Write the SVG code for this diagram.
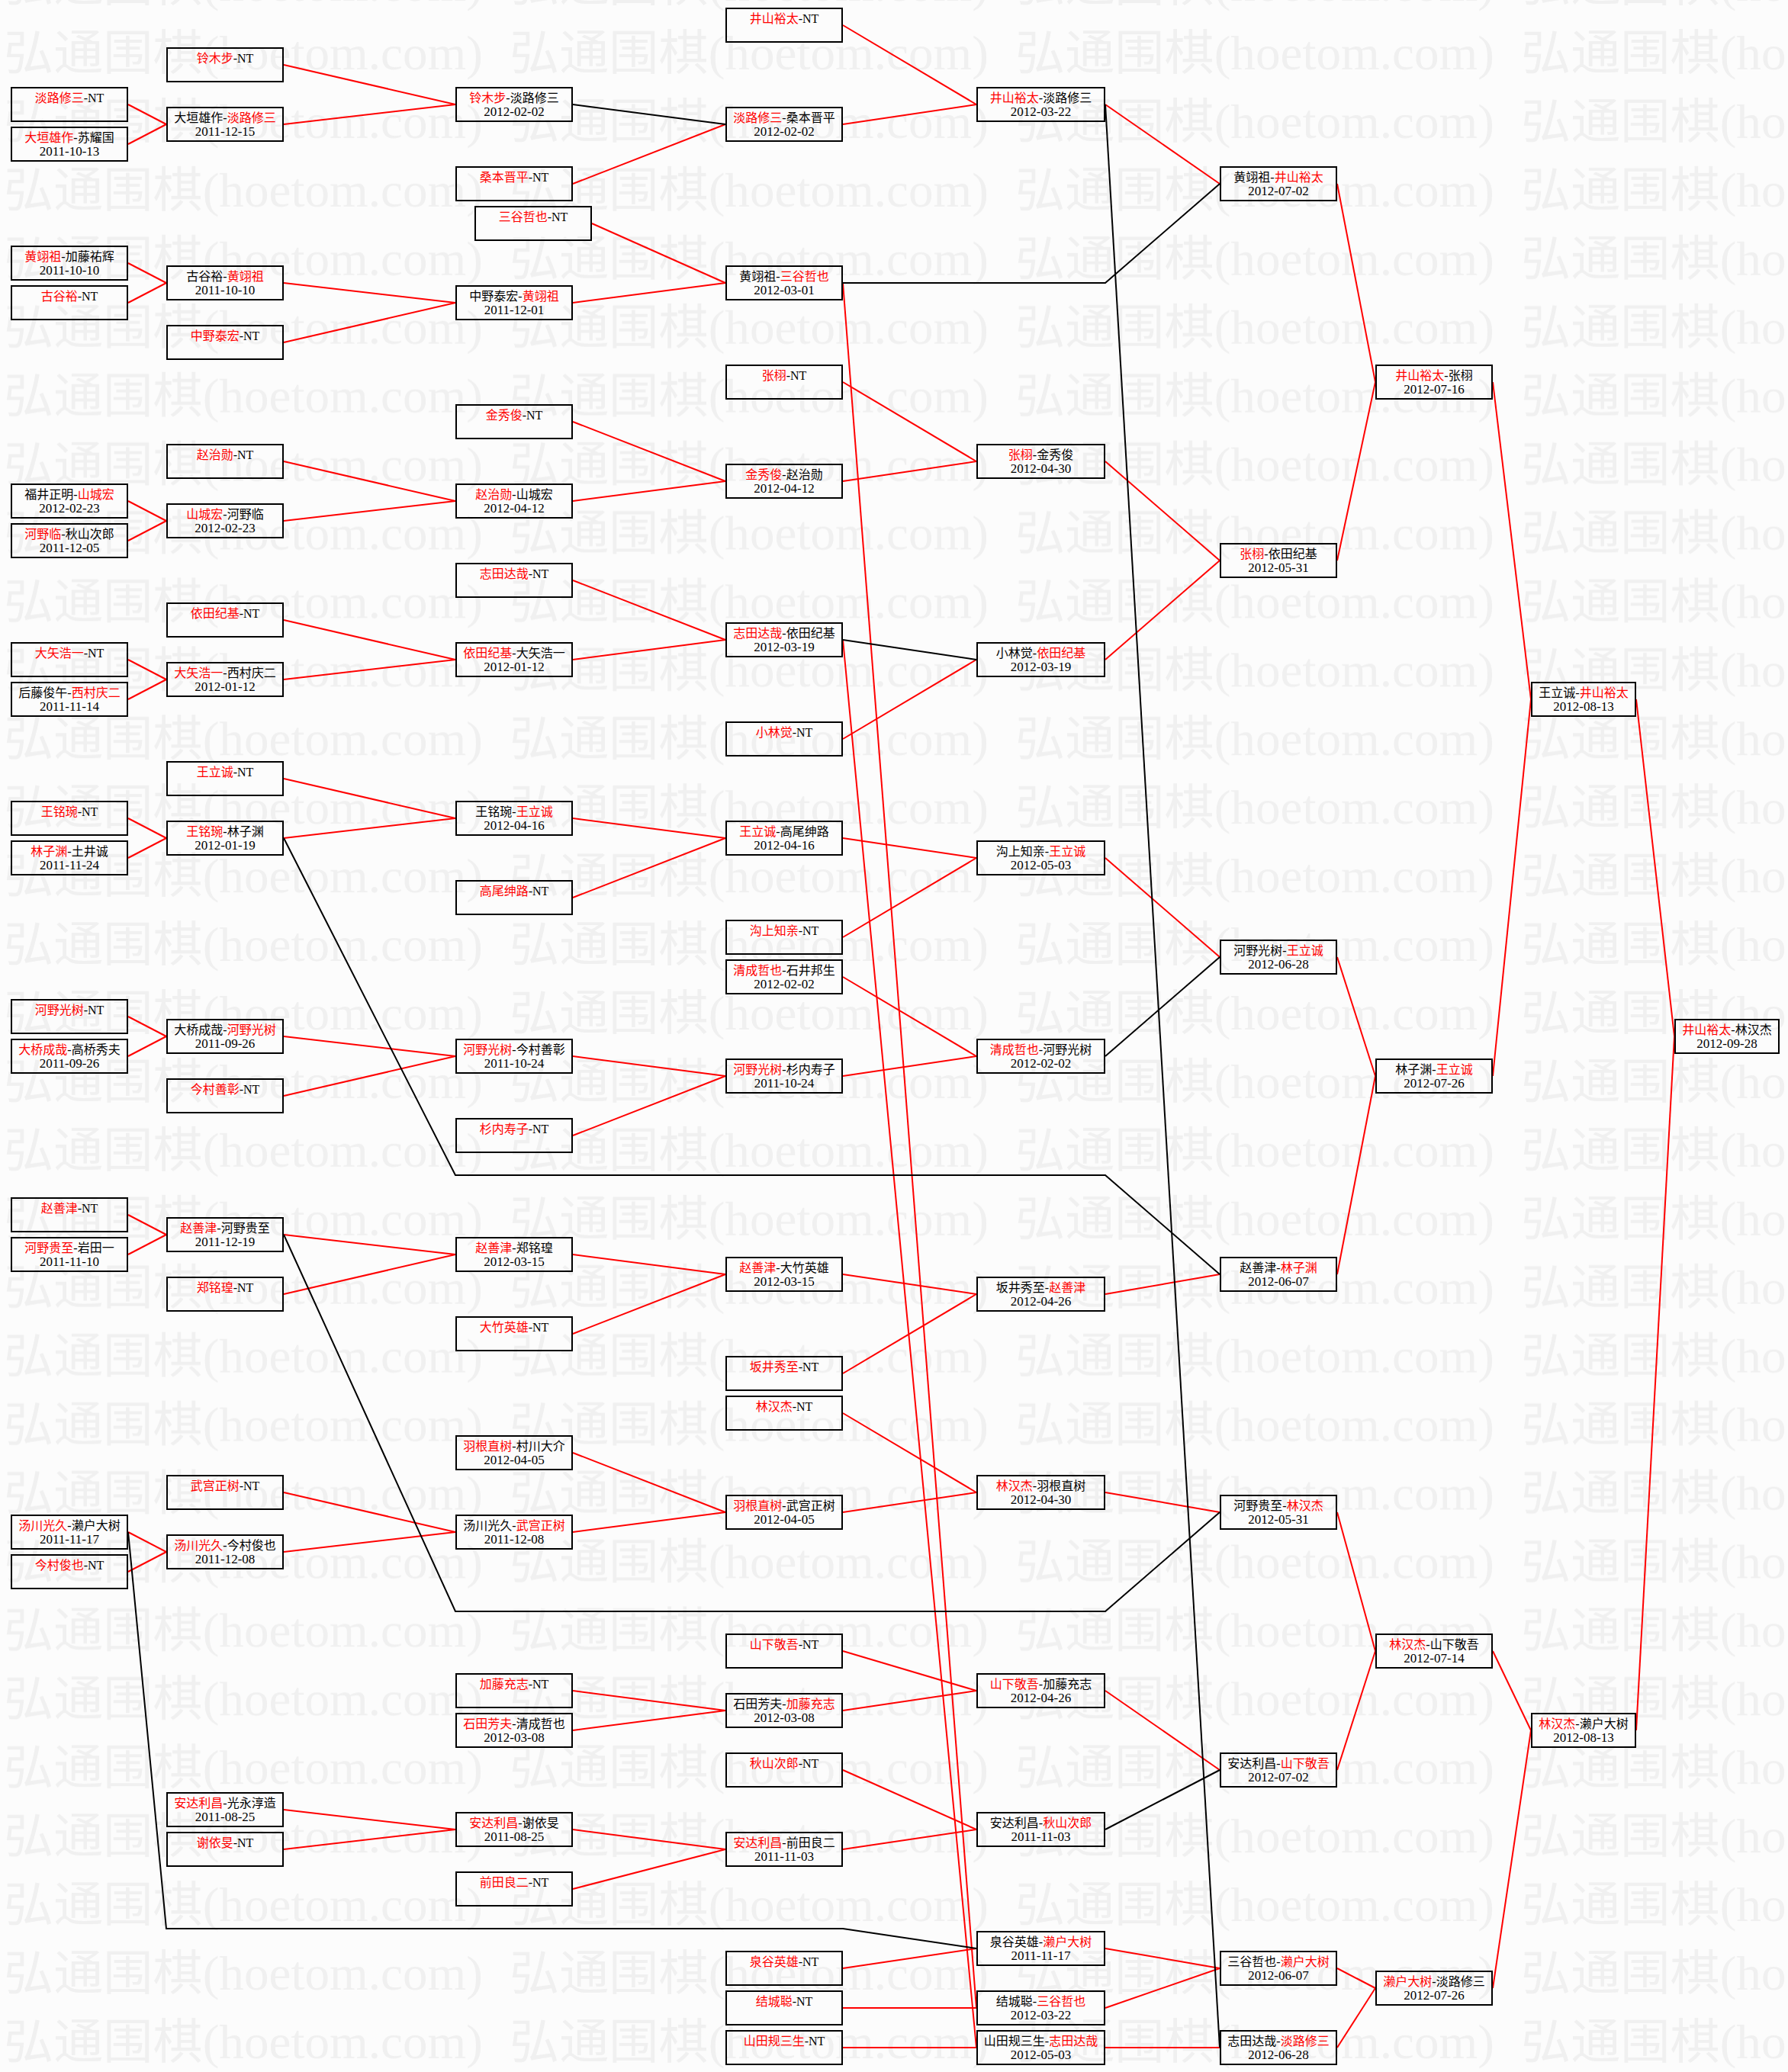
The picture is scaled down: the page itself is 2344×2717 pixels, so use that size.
<svg xmlns="http://www.w3.org/2000/svg" width="2344" height="2717" viewBox="0 0 2344 2717">
<style>
.bg{fill:#fcfcfc}
.wm{font-family:"Liberation Serif","Noto Sans CJK SC",serif;font-size:63px;fill:#f0f0f0}
.n rect{fill:none;stroke:#000;stroke-width:2}
.n text{font-family:"Liberation Serif","Noto Sans CJK SC",serif;font-size:16px;text-anchor:middle;fill:#000}
.n text.d{font-size:17px}
.r{fill:#f00}
.cr{stroke:#f00;stroke-width:2;fill:none}
.ck{stroke:#000;stroke-width:2;fill:none}
</style>
<defs>
<pattern id="wmp" patternUnits="userSpaceOnUse" x="5" y="23" width="663" height="89.93">
<text class="wm" x="0" y="68" textLength="628" lengthAdjust="spacingAndGlyphs">弘通围棋(hoetom.com)</text>
</pattern>
</defs>
<rect class="bg" x="0" y="0" width="2344" height="2717"/>
<rect id="watermark" x="0" y="0" width="2344" height="2717" fill="url(#wmp)"/>

<g id="connectors">
<g class="cr">
<line x1="168" y1="137" x2="218" y2="163"/><line x1="168" y1="189" x2="218" y2="163"/>
<line x1="168" y1="345" x2="218" y2="371"/><line x1="168" y1="397" x2="218" y2="371"/>
<line x1="168" y1="657" x2="218" y2="683"/><line x1="168" y1="709" x2="218" y2="683"/>
<line x1="168" y1="865" x2="218" y2="891"/><line x1="168" y1="917" x2="218" y2="891"/>
<line x1="168" y1="1073" x2="218" y2="1099"/><line x1="168" y1="1125" x2="218" y2="1099"/>
<line x1="168" y1="1333" x2="218" y2="1359"/><line x1="168" y1="1385" x2="218" y2="1359"/>
<line x1="168" y1="1593" x2="218" y2="1619"/><line x1="168" y1="1645" x2="218" y2="1619"/>
<line x1="168" y1="2009" x2="218" y2="2035"/><line x1="168" y1="2061" x2="218" y2="2035"/>

<line x1="372" y1="85" x2="597" y2="137"/><line x1="372" y1="163" x2="597" y2="137"/>
<line x1="372" y1="371" x2="597" y2="397"/><line x1="372" y1="449" x2="597" y2="397"/>
<line x1="372" y1="605" x2="597" y2="657"/><line x1="372" y1="683" x2="597" y2="657"/>
<line x1="372" y1="813" x2="597" y2="865"/><line x1="372" y1="891" x2="597" y2="865"/>
<line x1="372" y1="1021" x2="597" y2="1073"/><line x1="372" y1="1099" x2="597" y2="1073"/>
<line x1="372" y1="1359" x2="597" y2="1385"/><line x1="372" y1="1437" x2="597" y2="1385"/>
<line x1="372" y1="1619" x2="597" y2="1645"/><line x1="372" y1="1697" x2="597" y2="1645"/>
<line x1="372" y1="1957" x2="597" y2="2009"/><line x1="372" y1="2035" x2="597" y2="2009"/>
<line x1="372" y1="2373" x2="597" y2="2399"/><line x1="372" y1="2425" x2="597" y2="2399"/>

<line x1="751" y1="241" x2="951" y2="163"/>
<line x1="776" y1="293" x2="951" y2="371"/><line x1="751" y1="397" x2="951" y2="371"/>
<line x1="751" y1="553" x2="951" y2="631"/><line x1="751" y1="657" x2="951" y2="631"/>
<line x1="751" y1="761" x2="951" y2="839"/><line x1="751" y1="865" x2="951" y2="839"/>
<line x1="751" y1="1073" x2="951" y2="1099"/><line x1="751" y1="1177" x2="951" y2="1099"/>
<line x1="751" y1="1385" x2="951" y2="1411"/><line x1="751" y1="1489" x2="951" y2="1411"/>
<line x1="751" y1="1645" x2="951" y2="1671"/><line x1="751" y1="1749" x2="951" y2="1671"/>
<line x1="751" y1="1905" x2="951" y2="1983"/><line x1="751" y1="2009" x2="951" y2="1983"/>
<line x1="751" y1="2217" x2="951" y2="2243"/><line x1="751" y1="2269" x2="951" y2="2243"/>
<line x1="751" y1="2399" x2="951" y2="2425"/><line x1="751" y1="2477" x2="951" y2="2425"/>

<line x1="1105" y1="33" x2="1280" y2="137"/><line x1="1105" y1="163" x2="1280" y2="137"/>
<line x1="1105" y1="371" x2="1280" y2="2633"/>
<line x1="1105" y1="501" x2="1280" y2="605"/><line x1="1105" y1="631" x2="1280" y2="605"/>
<line x1="1105" y1="969" x2="1280" y2="865"/>
<line x1="1105" y1="839" x2="1280" y2="2685"/>
<line x1="1105" y1="1099" x2="1280" y2="1125"/><line x1="1105" y1="1229" x2="1280" y2="1125"/>
<line x1="1105" y1="1281" x2="1280" y2="1385"/><line x1="1105" y1="1411" x2="1280" y2="1385"/>
<line x1="1105" y1="1671" x2="1280" y2="1697"/><line x1="1105" y1="1801" x2="1280" y2="1697"/>
<line x1="1105" y1="1853" x2="1280" y2="1957"/><line x1="1105" y1="1983" x2="1280" y2="1957"/>
<line x1="1105" y1="2165" x2="1280" y2="2217"/><line x1="1105" y1="2243" x2="1280" y2="2217"/>
<line x1="1105" y1="2321" x2="1280" y2="2399"/><line x1="1105" y1="2425" x2="1280" y2="2399"/>
<line x1="1105" y1="2581" x2="1280" y2="2555"/>
<line x1="1105" y1="2633" x2="1280" y2="2633"/>
<line x1="1105" y1="2685" x2="1280" y2="2685"/>

<line x1="1449" y1="137" x2="1599" y2="241"/>
<line x1="1449" y1="605" x2="1599" y2="735"/><line x1="1449" y1="865" x2="1599" y2="735"/>
<line x1="1449" y1="1125" x2="1599" y2="1255"/>
<line x1="1449" y1="1697" x2="1599" y2="1671"/>
<line x1="1449" y1="1957" x2="1599" y2="1983"/>
<line x1="1449" y1="2217" x2="1599" y2="2321"/>
<line x1="1449" y1="2555" x2="1599" y2="2581"/><line x1="1449" y1="2633" x2="1599" y2="2581"/>
<line x1="1449" y1="2685" x2="1599" y2="2685"/>

<line x1="1753" y1="241" x2="1803" y2="501"/><line x1="1753" y1="735" x2="1803" y2="501"/>
<line x1="1753" y1="1255" x2="1803" y2="1411"/><line x1="1753" y1="1671" x2="1803" y2="1411"/>
<line x1="1753" y1="1983" x2="1803" y2="2165"/><line x1="1753" y1="2321" x2="1803" y2="2165"/>
<line x1="1753" y1="2581" x2="1803" y2="2607"/><line x1="1753" y1="2685" x2="1803" y2="2607"/>

<line x1="1957" y1="501" x2="2007" y2="917"/><line x1="1957" y1="1411" x2="2007" y2="917"/>
<line x1="1957" y1="2165" x2="2007" y2="2269"/><line x1="1957" y1="2607" x2="2007" y2="2269"/>

<line x1="2145" y1="917" x2="2195" y2="1359"/><line x1="2145" y1="2269" x2="2195" y2="1359"/>
</g>
<g class="ck">
<line x1="751" y1="137" x2="951" y2="163"/>
<polyline points="1105,371 1449,371 1599,241"/>
<line x1="1105" y1="839" x2="1280" y2="865"/>
<line x1="1449" y1="137" x2="1599" y2="2685"/>
<line x1="1449" y1="1385" x2="1599" y2="1255"/>
<line x1="1449" y1="2399" x2="1599" y2="2321"/>
<polyline points="372,1099 597,1541 1449,1541 1599,1671"/>
<polyline points="372,1619 597,2113 1449,2113 1599,1983"/>
<polyline points="168,2009 218,2529 1105,2529 1280,2555"/>
</g>
</g>

<g id="nodes">
<!-- column 0 -->
<g id="n0_4" class="n" transform="translate(14,114)"><rect x="1" y="1" width="152" height="44"/><text x="77" y="20"><tspan class="r">淡路修三</tspan>-NT</text></g>
<g id="n0_6" class="n" transform="translate(14,166)"><rect x="1" y="1" width="152" height="44"/><text x="77" y="20"><tspan class="r">大垣雄作</tspan>-苏耀国</text><text class="d" x="77" y="38">2011-10-13</text></g>
<g id="n0_12" class="n" transform="translate(14,322)"><rect x="1" y="1" width="152" height="44"/><text x="77" y="20"><tspan class="r">黄翊祖</tspan>-加藤祐辉</text><text class="d" x="77" y="38">2011-10-10</text></g>
<g id="n0_14" class="n" transform="translate(14,374)"><rect x="1" y="1" width="152" height="44"/><text x="77" y="20"><tspan class="r">古谷裕</tspan>-NT</text></g>
<g id="n0_24" class="n" transform="translate(14,634)"><rect x="1" y="1" width="152" height="44"/><text x="77" y="20">福井正明-<tspan class="r">山城宏</tspan></text><text class="d" x="77" y="38">2012-02-23</text></g>
<g id="n0_26" class="n" transform="translate(14,686)"><rect x="1" y="1" width="152" height="44"/><text x="77" y="20"><tspan class="r">河野临</tspan>-秋山次郎</text><text class="d" x="77" y="38">2011-12-05</text></g>
<g id="n0_32" class="n" transform="translate(14,842)"><rect x="1" y="1" width="152" height="44"/><text x="77" y="20"><tspan class="r">大矢浩一</tspan>-NT</text></g>
<g id="n0_34" class="n" transform="translate(14,894)"><rect x="1" y="1" width="152" height="44"/><text x="77" y="20">后藤俊午-<tspan class="r">西村庆二</tspan></text><text class="d" x="77" y="38">2011-11-14</text></g>
<g id="n0_40" class="n" transform="translate(14,1050)"><rect x="1" y="1" width="152" height="44"/><text x="77" y="20"><tspan class="r">王铭琬</tspan>-NT</text></g>
<g id="n0_42" class="n" transform="translate(14,1102)"><rect x="1" y="1" width="152" height="44"/><text x="77" y="20"><tspan class="r">林子渊</tspan>-土井诚</text><text class="d" x="77" y="38">2011-11-24</text></g>
<g id="n0_50" class="n" transform="translate(14,1310)"><rect x="1" y="1" width="152" height="44"/><text x="77" y="20"><tspan class="r">河野光树</tspan>-NT</text></g>
<g id="n0_52" class="n" transform="translate(14,1362)"><rect x="1" y="1" width="152" height="44"/><text x="77" y="20"><tspan class="r">大桥成哉</tspan>-高桥秀夫</text><text class="d" x="77" y="38">2011-09-26</text></g>
<g id="n0_60" class="n" transform="translate(14,1570)"><rect x="1" y="1" width="152" height="44"/><text x="77" y="20"><tspan class="r">赵善津</tspan>-NT</text></g>
<g id="n0_62" class="n" transform="translate(14,1622)"><rect x="1" y="1" width="152" height="44"/><text x="77" y="20"><tspan class="r">河野贵至</tspan>-岩田一</text><text class="d" x="77" y="38">2011-11-10</text></g>
<g id="n0_76" class="n" transform="translate(14,1986)"><rect x="1" y="1" width="152" height="44"/><text x="77" y="20"><tspan class="r">汤川光久</tspan>-濑户大树</text><text class="d" x="77" y="38">2011-11-17</text></g>
<g id="n0_78" class="n" transform="translate(14,2038)"><rect x="1" y="1" width="152" height="44"/><text x="77" y="20"><tspan class="r">今村俊也</tspan>-NT</text></g>

<!-- column 1 -->
<g id="n1_2" class="n" transform="translate(218,62)"><rect x="1" y="1" width="152" height="44"/><text x="77" y="20"><tspan class="r">铃木步</tspan>-NT</text></g>
<g id="n1_5" class="n" transform="translate(218,140)"><rect x="1" y="1" width="152" height="44"/><text x="77" y="20">大垣雄作-<tspan class="r">淡路修三</tspan></text><text class="d" x="77" y="38">2011-12-15</text></g>
<g id="n1_13" class="n" transform="translate(218,348)"><rect x="1" y="1" width="152" height="44"/><text x="77" y="20">古谷裕-<tspan class="r">黄翊祖</tspan></text><text class="d" x="77" y="38">2011-10-10</text></g>
<g id="n1_16" class="n" transform="translate(218,426)"><rect x="1" y="1" width="152" height="44"/><text x="77" y="20"><tspan class="r">中野泰宏</tspan>-NT</text></g>
<g id="n1_22" class="n" transform="translate(218,582)"><rect x="1" y="1" width="152" height="44"/><text x="77" y="20"><tspan class="r">赵治勋</tspan>-NT</text></g>
<g id="n1_25" class="n" transform="translate(218,660)"><rect x="1" y="1" width="152" height="44"/><text x="77" y="20"><tspan class="r">山城宏</tspan>-河野临</text><text class="d" x="77" y="38">2012-02-23</text></g>
<g id="n1_30" class="n" transform="translate(218,790)"><rect x="1" y="1" width="152" height="44"/><text x="77" y="20"><tspan class="r">依田纪基</tspan>-NT</text></g>
<g id="n1_33" class="n" transform="translate(218,868)"><rect x="1" y="1" width="152" height="44"/><text x="77" y="20"><tspan class="r">大矢浩一</tspan>-西村庆二</text><text class="d" x="77" y="38">2012-01-12</text></g>
<g id="n1_38" class="n" transform="translate(218,998)"><rect x="1" y="1" width="152" height="44"/><text x="77" y="20"><tspan class="r">王立诚</tspan>-NT</text></g>
<g id="n1_41" class="n" transform="translate(218,1076)"><rect x="1" y="1" width="152" height="44"/><text x="77" y="20"><tspan class="r">王铭琬</tspan>-林子渊</text><text class="d" x="77" y="38">2012-01-19</text></g>
<g id="n1_51" class="n" transform="translate(218,1336)"><rect x="1" y="1" width="152" height="44"/><text x="77" y="20">大桥成哉-<tspan class="r">河野光树</tspan></text><text class="d" x="77" y="38">2011-09-26</text></g>
<g id="n1_54" class="n" transform="translate(218,1414)"><rect x="1" y="1" width="152" height="44"/><text x="77" y="20"><tspan class="r">今村善彰</tspan>-NT</text></g>
<g id="n1_61" class="n" transform="translate(218,1596)"><rect x="1" y="1" width="152" height="44"/><text x="77" y="20"><tspan class="r">赵善津</tspan>-河野贵至</text><text class="d" x="77" y="38">2011-12-19</text></g>
<g id="n1_64" class="n" transform="translate(218,1674)"><rect x="1" y="1" width="152" height="44"/><text x="77" y="20"><tspan class="r">郑铭瑝</tspan>-NT</text></g>
<g id="n1_74" class="n" transform="translate(218,1934)"><rect x="1" y="1" width="152" height="44"/><text x="77" y="20"><tspan class="r">武宫正树</tspan>-NT</text></g>
<g id="n1_77" class="n" transform="translate(218,2012)"><rect x="1" y="1" width="152" height="44"/><text x="77" y="20"><tspan class="r">汤川光久</tspan>-今村俊也</text><text class="d" x="77" y="38">2011-12-08</text></g>
<g id="n1_90" class="n" transform="translate(218,2350)"><rect x="1" y="1" width="152" height="44"/><text x="77" y="20"><tspan class="r">安达利昌</tspan>-光永淳造</text><text class="d" x="77" y="38">2011-08-25</text></g>
<g id="n1_92" class="n" transform="translate(218,2402)"><rect x="1" y="1" width="152" height="44"/><text x="77" y="20"><tspan class="r">谢依旻</tspan>-NT</text></g>

<!-- column 2 -->
<g id="n2_4" class="n" transform="translate(597,114)"><rect x="1" y="1" width="152" height="44"/><text x="77" y="20"><tspan class="r">铃木步</tspan>-淡路修三</text><text class="d" x="77" y="38">2012-02-02</text></g>
<g id="n2_8" class="n" transform="translate(597,218)"><rect x="1" y="1" width="152" height="44"/><text x="77" y="20"><tspan class="r">桑本晋平</tspan>-NT</text></g>
<g id="n2_10" class="n" transform="translate(622,270)"><rect x="1" y="1" width="152" height="44"/><text x="77" y="20"><tspan class="r">三谷哲也</tspan>-NT</text></g>
<g id="n2_14" class="n" transform="translate(597,374)"><rect x="1" y="1" width="152" height="44"/><text x="77" y="20">中野泰宏-<tspan class="r">黄翊祖</tspan></text><text class="d" x="77" y="38">2011-12-01</text></g>
<g id="n2_20" class="n" transform="translate(597,530)"><rect x="1" y="1" width="152" height="44"/><text x="77" y="20"><tspan class="r">金秀俊</tspan>-NT</text></g>
<g id="n2_24" class="n" transform="translate(597,634)"><rect x="1" y="1" width="152" height="44"/><text x="77" y="20"><tspan class="r">赵治勋</tspan>-山城宏</text><text class="d" x="77" y="38">2012-04-12</text></g>
<g id="n2_28" class="n" transform="translate(597,738)"><rect x="1" y="1" width="152" height="44"/><text x="77" y="20"><tspan class="r">志田达哉</tspan>-NT</text></g>
<g id="n2_32" class="n" transform="translate(597,842)"><rect x="1" y="1" width="152" height="44"/><text x="77" y="20"><tspan class="r">依田纪基</tspan>-大矢浩一</text><text class="d" x="77" y="38">2012-01-12</text></g>
<g id="n2_40" class="n" transform="translate(597,1050)"><rect x="1" y="1" width="152" height="44"/><text x="77" y="20">王铭琬-<tspan class="r">王立诚</tspan></text><text class="d" x="77" y="38">2012-04-16</text></g>
<g id="n2_44" class="n" transform="translate(597,1154)"><rect x="1" y="1" width="152" height="44"/><text x="77" y="20"><tspan class="r">高尾绅路</tspan>-NT</text></g>
<g id="n2_52" class="n" transform="translate(597,1362)"><rect x="1" y="1" width="152" height="44"/><text x="77" y="20"><tspan class="r">河野光树</tspan>-今村善彰</text><text class="d" x="77" y="38">2011-10-24</text></g>
<g id="n2_56" class="n" transform="translate(597,1466)"><rect x="1" y="1" width="152" height="44"/><text x="77" y="20"><tspan class="r">杉内寿子</tspan>-NT</text></g>
<g id="n2_62" class="n" transform="translate(597,1622)"><rect x="1" y="1" width="152" height="44"/><text x="77" y="20"><tspan class="r">赵善津</tspan>-郑铭瑝</text><text class="d" x="77" y="38">2012-03-15</text></g>
<g id="n2_66" class="n" transform="translate(597,1726)"><rect x="1" y="1" width="152" height="44"/><text x="77" y="20"><tspan class="r">大竹英雄</tspan>-NT</text></g>
<g id="n2_72" class="n" transform="translate(597,1882)"><rect x="1" y="1" width="152" height="44"/><text x="77" y="20"><tspan class="r">羽根直树</tspan>-村川大介</text><text class="d" x="77" y="38">2012-04-05</text></g>
<g id="n2_76" class="n" transform="translate(597,1986)"><rect x="1" y="1" width="152" height="44"/><text x="77" y="20">汤川光久-<tspan class="r">武宫正树</tspan></text><text class="d" x="77" y="38">2011-12-08</text></g>
<g id="n2_84" class="n" transform="translate(597,2194)"><rect x="1" y="1" width="152" height="44"/><text x="77" y="20"><tspan class="r">加藤充志</tspan>-NT</text></g>
<g id="n2_86" class="n" transform="translate(597,2246)"><rect x="1" y="1" width="152" height="44"/><text x="77" y="20"><tspan class="r">石田芳夫</tspan>-清成哲也</text><text class="d" x="77" y="38">2012-03-08</text></g>
<g id="n2_91" class="n" transform="translate(597,2376)"><rect x="1" y="1" width="152" height="44"/><text x="77" y="20"><tspan class="r">安达利昌</tspan>-谢依旻</text><text class="d" x="77" y="38">2011-08-25</text></g>
<g id="n2_94" class="n" transform="translate(597,2454)"><rect x="1" y="1" width="152" height="44"/><text x="77" y="20"><tspan class="r">前田良二</tspan>-NT</text></g>

<!-- column 3 -->
<g id="n3_0" class="n" transform="translate(951,10)"><rect x="1" y="1" width="152" height="44"/><text x="77" y="20"><tspan class="r">井山裕太</tspan>-NT</text></g>
<g id="n3_5" class="n" transform="translate(951,140)"><rect x="1" y="1" width="152" height="44"/><text x="77" y="20"><tspan class="r">淡路修三</tspan>-桑本晋平</text><text class="d" x="77" y="38">2012-02-02</text></g>
<g id="n3_13" class="n" transform="translate(951,348)"><rect x="1" y="1" width="152" height="44"/><text x="77" y="20">黄翊祖-<tspan class="r">三谷哲也</tspan></text><text class="d" x="77" y="38">2012-03-01</text></g>
<g id="n3_18" class="n" transform="translate(951,478)"><rect x="1" y="1" width="152" height="44"/><text x="77" y="20"><tspan class="r">张栩</tspan>-NT</text></g>
<g id="n3_23" class="n" transform="translate(951,608)"><rect x="1" y="1" width="152" height="44"/><text x="77" y="20"><tspan class="r">金秀俊</tspan>-赵治勋</text><text class="d" x="77" y="38">2012-04-12</text></g>
<g id="n3_31" class="n" transform="translate(951,816)"><rect x="1" y="1" width="152" height="44"/><text x="77" y="20"><tspan class="r">志田达哉</tspan>-依田纪基</text><text class="d" x="77" y="38">2012-03-19</text></g>
<g id="n3_36" class="n" transform="translate(951,946)"><rect x="1" y="1" width="152" height="44"/><text x="77" y="20"><tspan class="r">小林觉</tspan>-NT</text></g>
<g id="n3_41" class="n" transform="translate(951,1076)"><rect x="1" y="1" width="152" height="44"/><text x="77" y="20"><tspan class="r">王立诚</tspan>-高尾绅路</text><text class="d" x="77" y="38">2012-04-16</text></g>
<g id="n3_46" class="n" transform="translate(951,1206)"><rect x="1" y="1" width="152" height="44"/><text x="77" y="20"><tspan class="r">沟上知亲</tspan>-NT</text></g>
<g id="n3_48" class="n" transform="translate(951,1258)"><rect x="1" y="1" width="152" height="44"/><text x="77" y="20"><tspan class="r">清成哲也</tspan>-石井邦生</text><text class="d" x="77" y="38">2012-02-02</text></g>
<g id="n3_53" class="n" transform="translate(951,1388)"><rect x="1" y="1" width="152" height="44"/><text x="77" y="20"><tspan class="r">河野光树</tspan>-杉内寿子</text><text class="d" x="77" y="38">2011-10-24</text></g>
<g id="n3_63" class="n" transform="translate(951,1648)"><rect x="1" y="1" width="152" height="44"/><text x="77" y="20"><tspan class="r">赵善津</tspan>-大竹英雄</text><text class="d" x="77" y="38">2012-03-15</text></g>
<g id="n3_68" class="n" transform="translate(951,1778)"><rect x="1" y="1" width="152" height="44"/><text x="77" y="20"><tspan class="r">坂井秀至</tspan>-NT</text></g>
<g id="n3_70" class="n" transform="translate(951,1830)"><rect x="1" y="1" width="152" height="44"/><text x="77" y="20"><tspan class="r">林汉杰</tspan>-NT</text></g>
<g id="n3_75" class="n" transform="translate(951,1960)"><rect x="1" y="1" width="152" height="44"/><text x="77" y="20"><tspan class="r">羽根直树</tspan>-武宫正树</text><text class="d" x="77" y="38">2012-04-05</text></g>
<g id="n3_82" class="n" transform="translate(951,2142)"><rect x="1" y="1" width="152" height="44"/><text x="77" y="20"><tspan class="r">山下敬吾</tspan>-NT</text></g>
<g id="n3_85" class="n" transform="translate(951,2220)"><rect x="1" y="1" width="152" height="44"/><text x="77" y="20">石田芳夫-<tspan class="r">加藤充志</tspan></text><text class="d" x="77" y="38">2012-03-08</text></g>
<g id="n3_88" class="n" transform="translate(951,2298)"><rect x="1" y="1" width="152" height="44"/><text x="77" y="20"><tspan class="r">秋山次郎</tspan>-NT</text></g>
<g id="n3_92" class="n" transform="translate(951,2402)"><rect x="1" y="1" width="152" height="44"/><text x="77" y="20"><tspan class="r">安达利昌</tspan>-前田良二</text><text class="d" x="77" y="38">2011-11-03</text></g>
<g id="n3_98" class="n" transform="translate(951,2558)"><rect x="1" y="1" width="152" height="44"/><text x="77" y="20"><tspan class="r">泉谷英雄</tspan>-NT</text></g>
<g id="n3_100" class="n" transform="translate(951,2610)"><rect x="1" y="1" width="152" height="44"/><text x="77" y="20"><tspan class="r">结城聪</tspan>-NT</text></g>
<g id="n3_102" class="n" transform="translate(951,2662)"><rect x="1" y="1" width="152" height="44"/><text x="77" y="20"><tspan class="r">山田规三生</tspan>-NT</text></g>

<!-- column 4 -->
<g id="n4_4" class="n" transform="translate(1280,114)"><rect x="1" y="1" width="167" height="44"/><text x="84.5" y="20"><tspan class="r">井山裕太</tspan>-淡路修三</text><text class="d" x="84.5" y="38">2012-03-22</text></g>
<g id="n4_22" class="n" transform="translate(1280,582)"><rect x="1" y="1" width="167" height="44"/><text x="84.5" y="20"><tspan class="r">张栩</tspan>-金秀俊</text><text class="d" x="84.5" y="38">2012-04-30</text></g>
<g id="n4_32" class="n" transform="translate(1280,842)"><rect x="1" y="1" width="167" height="44"/><text x="84.5" y="20">小林觉-<tspan class="r">依田纪基</tspan></text><text class="d" x="84.5" y="38">2012-03-19</text></g>
<g id="n4_42" class="n" transform="translate(1280,1102)"><rect x="1" y="1" width="167" height="44"/><text x="84.5" y="20">沟上知亲-<tspan class="r">王立诚</tspan></text><text class="d" x="84.5" y="38">2012-05-03</text></g>
<g id="n4_52" class="n" transform="translate(1280,1362)"><rect x="1" y="1" width="167" height="44"/><text x="84.5" y="20"><tspan class="r">清成哲也</tspan>-河野光树</text><text class="d" x="84.5" y="38">2012-02-02</text></g>
<g id="n4_64" class="n" transform="translate(1280,1674)"><rect x="1" y="1" width="167" height="44"/><text x="84.5" y="20">坂井秀至-<tspan class="r">赵善津</tspan></text><text class="d" x="84.5" y="38">2012-04-26</text></g>
<g id="n4_74" class="n" transform="translate(1280,1934)"><rect x="1" y="1" width="167" height="44"/><text x="84.5" y="20"><tspan class="r">林汉杰</tspan>-羽根直树</text><text class="d" x="84.5" y="38">2012-04-30</text></g>
<g id="n4_84" class="n" transform="translate(1280,2194)"><rect x="1" y="1" width="167" height="44"/><text x="84.5" y="20"><tspan class="r">山下敬吾</tspan>-加藤充志</text><text class="d" x="84.5" y="38">2012-04-26</text></g>
<g id="n4_91" class="n" transform="translate(1280,2376)"><rect x="1" y="1" width="167" height="44"/><text x="84.5" y="20">安达利昌-<tspan class="r">秋山次郎</tspan></text><text class="d" x="84.5" y="38">2011-11-03</text></g>
<g id="n4_97" class="n" transform="translate(1280,2532)"><rect x="1" y="1" width="167" height="44"/><text x="84.5" y="20">泉谷英雄-<tspan class="r">濑户大树</tspan></text><text class="d" x="84.5" y="38">2011-11-17</text></g>
<g id="n4_100" class="n" transform="translate(1280,2610)"><rect x="1" y="1" width="167" height="44"/><text x="84.5" y="20">结城聪-<tspan class="r">三谷哲也</tspan></text><text class="d" x="84.5" y="38">2012-03-22</text></g>
<g id="n4_102" class="n" transform="translate(1280,2662)"><rect x="1" y="1" width="167" height="44"/><text x="84.5" y="20">山田规三生-<tspan class="r">志田达哉</tspan></text><text class="d" x="84.5" y="38">2012-05-03</text></g>

<!-- column 5 -->
<g id="n5_8" class="n" transform="translate(1599,218)"><rect x="1" y="1" width="152" height="44"/><text x="77" y="20">黄翊祖-<tspan class="r">井山裕太</tspan></text><text class="d" x="77" y="38">2012-07-02</text></g>
<g id="n5_27" class="n" transform="translate(1599,712)"><rect x="1" y="1" width="152" height="44"/><text x="77" y="20"><tspan class="r">张栩</tspan>-依田纪基</text><text class="d" x="77" y="38">2012-05-31</text></g>
<g id="n5_47" class="n" transform="translate(1599,1232)"><rect x="1" y="1" width="152" height="44"/><text x="77" y="20">河野光树-<tspan class="r">王立诚</tspan></text><text class="d" x="77" y="38">2012-06-28</text></g>
<g id="n5_63" class="n" transform="translate(1599,1648)"><rect x="1" y="1" width="152" height="44"/><text x="77" y="20">赵善津-<tspan class="r">林子渊</tspan></text><text class="d" x="77" y="38">2012-06-07</text></g>
<g id="n5_75" class="n" transform="translate(1599,1960)"><rect x="1" y="1" width="152" height="44"/><text x="77" y="20">河野贵至-<tspan class="r">林汉杰</tspan></text><text class="d" x="77" y="38">2012-05-31</text></g>
<g id="n5_88" class="n" transform="translate(1599,2298)"><rect x="1" y="1" width="152" height="44"/><text x="77" y="20">安达利昌-<tspan class="r">山下敬吾</tspan></text><text class="d" x="77" y="38">2012-07-02</text></g>
<g id="n5_98" class="n" transform="translate(1599,2558)"><rect x="1" y="1" width="152" height="44"/><text x="77" y="20">三谷哲也-<tspan class="r">濑户大树</tspan></text><text class="d" x="77" y="38">2012-06-07</text></g>
<g id="n5_102" class="n" transform="translate(1599,2662)"><rect x="1" y="1" width="152" height="44"/><text x="77" y="20">志田达哉-<tspan class="r">淡路修三</tspan></text><text class="d" x="77" y="38">2012-06-28</text></g>

<!-- column 6 -->
<g id="n6_18" class="n" transform="translate(1803,478)"><rect x="1" y="1" width="152" height="44"/><text x="77" y="20"><tspan class="r">井山裕太</tspan>-张栩</text><text class="d" x="77" y="38">2012-07-16</text></g>
<g id="n6_53" class="n" transform="translate(1803,1388)"><rect x="1" y="1" width="152" height="44"/><text x="77" y="20">林子渊-<tspan class="r">王立诚</tspan></text><text class="d" x="77" y="38">2012-07-26</text></g>
<g id="n6_82" class="n" transform="translate(1803,2142)"><rect x="1" y="1" width="152" height="44"/><text x="77" y="20"><tspan class="r">林汉杰</tspan>-山下敬吾</text><text class="d" x="77" y="38">2012-07-14</text></g>
<g id="n6_99" class="n" transform="translate(1803,2584)"><rect x="1" y="1" width="152" height="44"/><text x="77" y="20"><tspan class="r">濑户大树</tspan>-淡路修三</text><text class="d" x="77" y="38">2012-07-26</text></g>

<!-- column 7 -->
<g id="n7_34" class="n" transform="translate(2007,894)"><rect x="1" y="1" width="136" height="44"/><text x="69" y="20">王立诚-<tspan class="r">井山裕太</tspan></text><text class="d" x="69" y="38">2012-08-13</text></g>
<g id="n7_86" class="n" transform="translate(2007,2246)"><rect x="1" y="1" width="136" height="44"/><text x="69" y="20"><tspan class="r">林汉杰</tspan>-濑户大树</text><text class="d" x="69" y="38">2012-08-13</text></g>

<!-- column 8 -->
<g id="n8_51" class="n" transform="translate(2195,1336)"><rect x="1" y="1" width="136" height="44"/><text x="69" y="20"><tspan class="r">井山裕太</tspan>-林汉杰</text><text class="d" x="69" y="38">2012-09-28</text></g>
</g>
</svg>
